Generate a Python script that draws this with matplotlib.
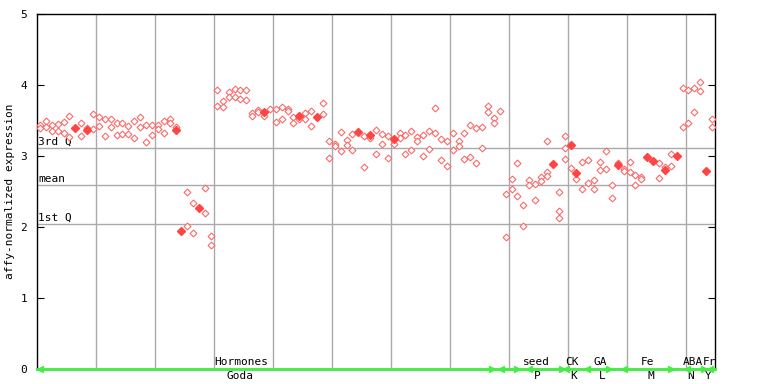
import numpy as np
import matplotlib
matplotlib.use("Agg")
import matplotlib.pyplot as plt

nan = np.nan

# two replicate (hollow) values per sample, plus a few third points and the filled ones
rep_a = [3.44, 3.49, 3.44, 3.45, 3.48, 3.56, nan, 3.46, 3.39, 3.59,
         3.55, 3.52, 3.52, 3.46, 3.46, 3.42, 3.49, 3.55, 3.44, 3.44,
         3.44, 3.49, 3.52, 3.41, nan, 2.49, 2.34, nan, 2.55, 1.87,
         3.93, 3.77, 3.90, 3.94, 3.93, 3.93, 3.61, 3.65, 3.56, 3.66,
         3.66, 3.69, 3.66, 3.55, 3.52, 3.61, 3.63, nan, 3.75, 3.21,
         3.17, 3.34, 3.23, 3.31, nan, 3.28, 3.26, 3.37, 3.31, 3.28,
         3.17, 3.32, 3.30, 3.35, 3.27, 3.30, 3.35, 3.68, 3.24, 3.21,
         3.32, 3.21, 3.32, 3.44, 3.39, 3.41, 3.70, 3.54, 3.63, 2.46,
         2.68, 2.90, 2.31, 2.66, 2.61, 2.70, 3.21, nan, 2.49, 3.28,
         2.83, 2.68, 2.92, 2.94, 2.66, 2.92, 3.07, 2.59, 2.90, 2.82,
         2.92, 2.73, 2.70, nan, nan, 2.90, 2.85, 3.03, nan, 3.96,
         3.93, 3.96, 4.04, nan, 3.52]
rep_b = [3.39, 3.41, 3.35, 3.35, 3.32, 3.27, nan, 3.28, nan, 3.38,
         3.42, 3.28, 3.41, 3.30, 3.31, 3.31, 3.25, 3.41, 3.20, 3.30,
         3.38, 3.32, 3.46, nan, nan, 2.01, 1.92, nan, 2.20, 1.75,
         3.70, 3.69, 3.83, 3.83, 3.80, 3.79, 3.56, 3.62, nan, nan,
         3.48, 3.52, 3.63, 3.46, nan, 3.52, 3.42, nan, 3.59, 2.97,
         3.14, 3.07, 3.16, 3.08, nan, 2.85, nan, 3.03, 3.17, 2.97,
         nan, 3.25, 3.03, 3.08, 3.21, 3.00, 3.10, 3.32, 2.94, 2.86,
         3.08, 3.14, 2.96, 2.99, 2.90, 3.11, 3.62, 3.46, nan, 1.86,
         2.53, 2.44, 2.01, 2.59, 2.38, 2.65, 2.77, nan, 2.23, 3.11,
         nan, nan, 2.54, 2.62, 2.54, 2.80, 2.82, 2.41, nan, 2.79,
         2.77, 2.59, 2.68, nan, nan, 2.69, nan, 2.86, nan, 3.41,
         3.46, 3.62, 3.92, nan, 3.41]
rep_c = {86: 2.72, 88: 2.13, 89: 2.96}
filled = {6: 3.39, 8: 3.36, 23: 3.37, 24: 1.94, 27: 2.27, 38: 3.62,
          44: 3.57, 47: 3.55, 54: 3.34, 56: 3.30, 60: 3.24, 87: 2.89,
          90: 3.16, 91: 2.76, 98: 2.87, 103: 2.99, 104: 2.93, 106: 2.80,
          108: 3.00, 113: 2.79}

q3, q_mean, q1 = 3.11, 2.59, 2.04

groups = ["Hormones", "seed", "CK", "GA", "Fe", "ABA", "Fr"]
subgroups = ["Goda", "P", "K", "L", "M", "N", "Y"]
group_x = [34.1, 84.2, 90.2, 95.1, 103.1, 110.8, 113.6]
sub_x = [33.9, 84.4, 90.5, 95.4, 103.6, 110.3, 113.4]

n = len(rep_a)
idx = np.arange(n)

fig = plt.figure(figsize=(7.68, 3.84), dpi=100)
ax = fig.add_axes([37 / 768, 15 / 384, 678 / 768, 355 / 384])
mono = "DejaVu Sans Mono"

ax.set_xlim(-0.5, n - 0.5)
ax.set_ylim(0, 5)

for gx in np.arange(9.5, n, 10):
    ax.axvline(gx, color="#aaaaaa", lw=1, zorder=1)
for q, lab in [(q3, "3rd Q"), (q_mean, "mean"), (q1, "1st Q")]:
    ax.axhline(q, color="#aaaaaa", lw=1, zorder=1)
    ax.text(-0.35, q + 0.02, lab, fontsize=8, family=mono, va="bottom", ha="left")

red = "#ff6262"
for vals in (rep_a, rep_b):
    ax.plot(idx, vals, ls="none", marker="D", ms=3.5, mfc="white", mec=red,
            mew=0.75, zorder=3)
ax.plot(list(rep_c.keys()), list(rep_c.values()), ls="none", marker="D", ms=3.5,
        mfc="white", mec=red, mew=0.75, zorder=3)
ax.plot(list(filled.keys()), list(filled.values()), ls="none", marker="D", ms=4.4,
        color="#ff4444", zorder=4)

# green experiment bar along the bottom
green = "#44ee44"
ax.plot([-0.5, n - 0.5], [0, 0], color=green, lw=2, clip_on=False, zorder=5)
right_arrows = [76.7, 81.0, 88.6, 96.6, 107.1, 112.7]
left_arrows = [0.0, 78.2, 83.0, 89.3, 92.8, 99.1, 109.7, 113.6]
ax.plot(right_arrows, [0] * len(right_arrows), ls="none", marker=">", ms=4,
        color=green, clip_on=False, zorder=6)
ax.plot(left_arrows, [0] * len(left_arrows), ls="none", marker="<", ms=4,
        color=green, clip_on=False, zorder=6)
for g, x in zip(groups, group_x):
    ax.text(x, 0.1, g, fontsize=8, family=mono, ha="center", va="center")
for s, x in zip(subgroups, sub_x):
    ax.text(x, -0.1, s, fontsize=8, family=mono, ha="center", va="center",
            clip_on=False)

ax.set_xticks([])
ax.set_yticks(range(6))
ax.set_yticklabels([str(v) for v in range(6)], family=mono, fontsize=8)
ax.tick_params(axis="y", direction="in", length=5, right=True, pad=7)
ax.set_ylabel("affy-normalized expression", family=mono, fontsize=8, labelpad=4)
for sp in ax.spines.values():
    sp.set_linewidth(1)

fig.savefig("out.png", dpi=100)
